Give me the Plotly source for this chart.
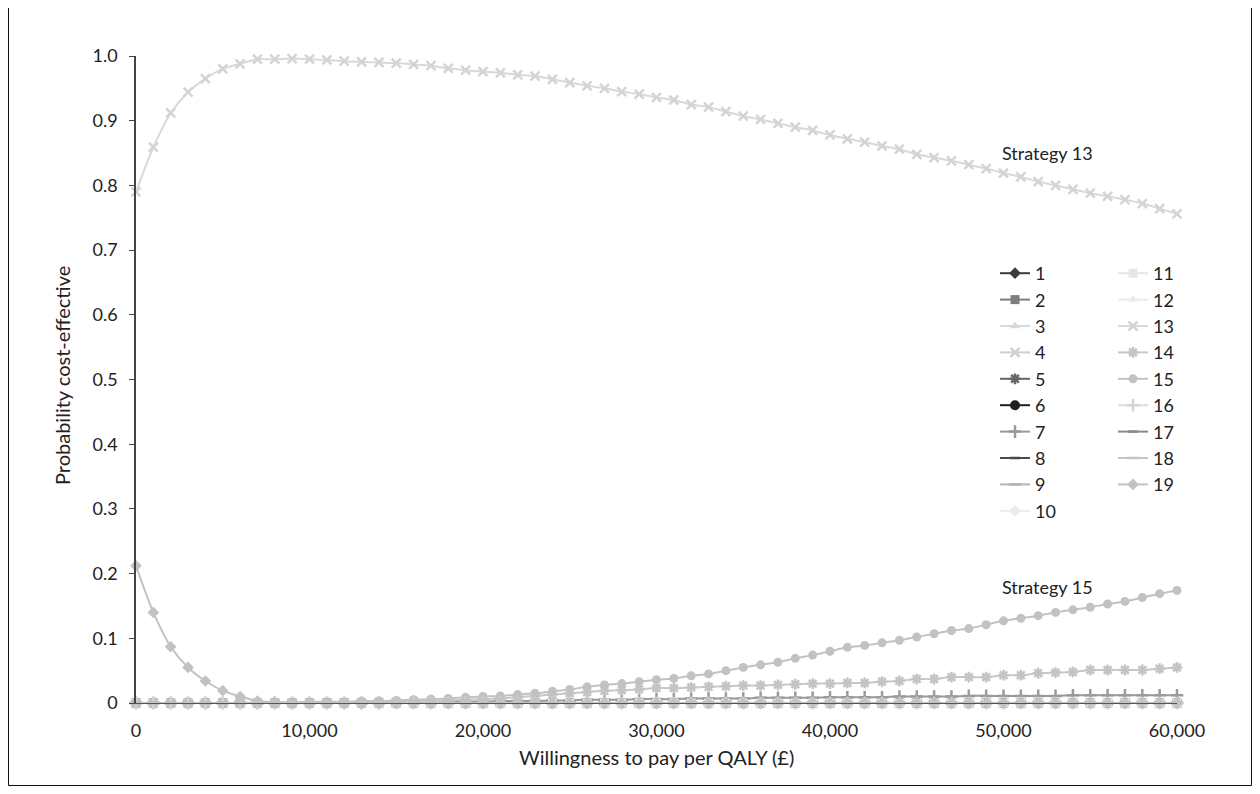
import plotly.graph_objects as go

wtp = [0, 1000, 2000, 3000, 4000, 5000, 6000, 7000, 8000, 9000,
       10000, 11000, 12000, 13000, 14000, 15000, 16000, 17000, 18000, 19000,
       20000, 21000, 22000, 23000, 24000, 25000, 26000, 27000, 28000, 29000,
       30000, 31000, 32000, 33000, 34000, 35000, 36000, 37000, 38000, 39000,
       40000, 41000, 42000, 43000, 44000, 45000, 46000, 47000, 48000, 49000,
       50000, 51000, 52000, 53000, 54000, 55000, 56000, 57000, 58000, 59000,
       60000]

s13 = [0.790, 0.859, 0.912, 0.944, 0.965, 0.980, 0.988, 0.995, 0.995, 0.996,
       0.995, 0.994, 0.992, 0.991, 0.990, 0.989, 0.987, 0.985, 0.981, 0.978,
       0.976, 0.974, 0.971, 0.969, 0.964, 0.959, 0.954, 0.950, 0.945, 0.941,
       0.936, 0.932, 0.925, 0.921, 0.914, 0.907, 0.902, 0.896, 0.890, 0.885,
       0.878, 0.872, 0.867, 0.861, 0.856, 0.848, 0.843, 0.838, 0.832, 0.826,
       0.819, 0.813, 0.806, 0.800, 0.794, 0.788, 0.783, 0.778, 0.772, 0.764,
       0.756]

s19 = [0.212, 0.140, 0.087, 0.055, 0.034, 0.019, 0.010, 0.003, 0.001, 0.0,
       0.0, 0.0, 0.0, 0.0, 0.0, 0.0, 0.0, 0.0, 0.0, 0.0,
       0.0, 0.0, 0.0, 0.0, 0.0, 0.0, 0.0, 0.0, 0.0, 0.0,
       0.0, 0.0, 0.0, 0.0, 0.0, 0.0, 0.0, 0.0, 0.0, 0.0,
       0.0, 0.0, 0.0, 0.0, 0.0, 0.0, 0.0, 0.0, 0.0, 0.0,
       0.0, 0.0, 0.0, 0.0, 0.0, 0.0, 0.0, 0.0, 0.0, 0.0,
       0.0]

s15 = [0.0, 0.0, 0.0, 0.0, 0.0, 0.0, 0.0, 0.001, 0.001, 0.001,
       0.002, 0.002, 0.002, 0.003, 0.003, 0.004, 0.005, 0.006, 0.007, 0.009,
       0.010, 0.011, 0.013, 0.015, 0.018, 0.021, 0.025, 0.028, 0.030, 0.033,
       0.036, 0.038, 0.042, 0.045, 0.050, 0.055, 0.059, 0.063, 0.069, 0.074,
       0.080, 0.086, 0.089, 0.093, 0.097, 0.102, 0.107, 0.112, 0.115, 0.121,
       0.127, 0.131, 0.135, 0.140, 0.144, 0.148, 0.153, 0.157, 0.163, 0.169,
       0.174]

s14 = [0.0, 0.0, 0.0, 0.0, 0.0, 0.0, 0.0, 0.0, 0.0, 0.0,
       0.0, 0.001, 0.001, 0.001, 0.002, 0.002, 0.003, 0.003, 0.004, 0.005,
       0.006, 0.007, 0.009, 0.011, 0.013, 0.015, 0.017, 0.019, 0.020, 0.021,
       0.023, 0.023, 0.024, 0.025, 0.026, 0.027, 0.027, 0.028, 0.029, 0.030,
       0.030, 0.031, 0.031, 0.033, 0.034, 0.037, 0.037, 0.040, 0.040, 0.040,
       0.043, 0.043, 0.046, 0.047, 0.048, 0.051, 0.051, 0.051, 0.051, 0.053,
       0.055]

s7 = [0.0, 0.0, 0.0, 0.0, 0.0, 0.0, 0.0, 0.0, 0.0, 0.0,
      0.0, 0.0, 0.0, 0.0, 0.0, 0.001, 0.001, 0.001, 0.002, 0.002,
      0.002, 0.003, 0.003, 0.003, 0.004, 0.004, 0.005, 0.005, 0.005, 0.006,
      0.006, 0.006, 0.007, 0.007, 0.007, 0.007, 0.008, 0.008, 0.008, 0.008,
      0.009, 0.009, 0.009, 0.009, 0.010, 0.010, 0.010, 0.010, 0.011, 0.011,
      0.011, 0.011, 0.011, 0.011, 0.012, 0.012, 0.012, 0.012, 0.012, 0.012,
      0.012]

# strategies whose probability stays at zero across the whole range
flat_zero = [0.0] * 61

strategy_names = ["1", "2", "3", "4", "5", "6", "7", "8", "9", "10",
                  "11", "12", "13", "14", "15", "16", "17", "18", "19"]

series_values = {
    "1": flat_zero, "2": flat_zero, "3": flat_zero, "4": flat_zero,
    "5": flat_zero, "6": flat_zero, "7": s7, "8": flat_zero,
    "9": flat_zero, "10": flat_zero, "11": flat_zero, "12": flat_zero,
    "13": s13, "14": s14, "15": s15, "16": flat_zero, "17": flat_zero,
    "18": flat_zero, "19": s19,
}

y_tickvals = [0, 0.1, 0.2, 0.3, 0.4, 0.5, 0.6, 0.7, 0.8, 0.9, 1.0]
y_ticktext = ["0", "0.1", "0.2", "0.3", "0.4", "0.5", "0.6", "0.7", "0.8", "0.9", "1.0"]
x_tickvals = [0, 10000, 20000, 30000, 40000, 50000, 60000]

x_title = "Willingness to pay per QALY (£)"
y_title = "Probability cost-effective"

# style: (line colour, marker symbol, marker colour, marker size)
styles = {
    "1": ("#3c3c3c", "diamond", "#3c3c3c", 9),
    "2": ("#7d7d7d", "square", "#7d7d7d", 9),
    "3": ("#d9d9d9", "triangle-up", "#d9d9d9", 9),
    "4": ("#cfcfcf", "x-thin-open", "#cfcfcf", 9),
    "5": ("#666666", "asterisk-open", "#666666", 9),
    "6": ("#1e1e1e", "circle", "#1e1e1e", 10),
    "7": ("#9a9a9a", "cross-thin-open", "#9a9a9a", 9),
    "8": ("#4a4a4a", "line-ew-open", "#4a4a4a", 7),
    "9": ("#b4b4b4", "line-ew-open", "#b4b4b4", 9),
    "10": ("#ececec", "diamond", "#ececec", 9),
    "11": ("#e6e6e6", "square", "#e6e6e6", 9),
    "12": ("#ebebeb", "triangle-up", "#ebebeb", 9),
    "13": ("#d9d9d9", "x-thin-open", "#d4d4d4", 9),
    "14": ("#c8c8c8", "asterisk-open", "#c4c4c4", 9),
    "15": ("#c2c2c2", "circle", "#c2c2c2", 9),
    "16": ("#dcdcdc", "cross-thin-open", "#d4d4d4", 9),
    "17": ("#8a8a8a", "line-ew-open", "#8a8a8a", 7),
    "18": ("#c4c4c4", "line-ew-open", "#c4c4c4", 9),
    "19": ("#c2c2c2", "diamond", "#c2c2c2", 9),
}

FONT = "Lato, 'Open Sans', sans-serif"
TXT = "#222222"

# page offset: the html body adds 8 px around the figure
OFF = 8
W, H = 1244, 778
PL, PR, PT, PB = 136, 1177, 56, 703   # plot area in page pixels
PW, PH = PR - PL, PB - PT


def px(xp):
    return (xp - PL) / PW


def py(yp):
    return (PB - yp) / PH


fig = go.Figure()
for i, name in enumerate(strategy_names):
    lc, sym, mc, ms = styles[name]
    open_sym = sym.endswith("-open")
    fig.add_trace(go.Scatter(
        x=wtp, y=series_values[name], name=name, mode="lines+markers",
        line=dict(color=lc, width=2, shape="spline", smoothing=0.8),
        marker=dict(symbol=sym, size=ms, color=mc,
                    line=dict(color=mc, width=2.5 if open_sym else 0)),
        legend="legend" if i < 10 else "legend2",
        legendgroup="g" + name,
        cliponaxis=False,
    ))

for label, cx, cy in [("Strategy 13", 1047, 153), ("Strategy 15", 1047, 587)]:
    fig.add_annotation(x=px(cx), y=py(cy), xref="paper", yref="paper",
                       xanchor="center", yanchor="middle",
                       text=label, showarrow=False,
                       font=dict(family=FONT, size=18, color=TXT))

# axis titles
fig.add_annotation(x=px(656), y=py(757), xref="paper", yref="paper",
                   xanchor="center", yanchor="middle", text=x_title,
                   showarrow=False, font=dict(family=FONT, size=20, color=TXT))
fig.add_annotation(x=px(62), y=py(376), xref="paper", yref="paper",
                   xanchor="center", yanchor="middle", text=y_title,
                   textangle=-90, showarrow=False,
                   font=dict(family=FONT, size=20, color=TXT))

# outer frame
fig.add_shape(type="rect", xref="paper", yref="paper",
              x0=px(8.5), x1=px(1251.5), y0=py(785.5), y1=py(7.5),
              line=dict(color="#111", width=1), fillcolor="rgba(0,0,0,0)",
              layer="below")

legend_common = dict(
    font=dict(family=FONT, size=18, color=TXT),
    bgcolor="rgba(0,0,0,0)", borderwidth=0,
    tracegroupgap=0, xanchor="left", yanchor="top", itemwidth=30,
)

fig.update_layout(
    width=W, height=H,
    margin=dict(l=PL - OFF, r=W - (PR - OFF), t=PT - OFF, b=H - (PB - OFF)),
    paper_bgcolor="white", plot_bgcolor="white",
    font=dict(family=FONT, size=18, color=TXT),
    showlegend=True,
    legend=dict(x=px(995), y=py(255), **legend_common),
    legend2=dict(x=px(1113), y=py(255), **legend_common),
    xaxis=dict(
        range=[0, 60000], tickvals=x_tickvals, tickformat=",",
        showgrid=False, zeroline=False, showline=True, linecolor="#555",
        linewidth=1, ticks="", ticklabelstandoff=11,
        tickfont=dict(family=FONT, size=18, color=TXT),
    ),
    yaxis=dict(
        range=[0, 1.0], tickvals=y_tickvals, ticktext=y_ticktext,
        showgrid=False, zeroline=False, showline=True, linecolor="#444",
        linewidth=1.5, ticks="outside", ticklen=5, tickcolor="#444",
        ticklabelstandoff=8,
        tickfont=dict(family=FONT, size=18, color=TXT),
    ),
)

fig.write_html("out.html")
